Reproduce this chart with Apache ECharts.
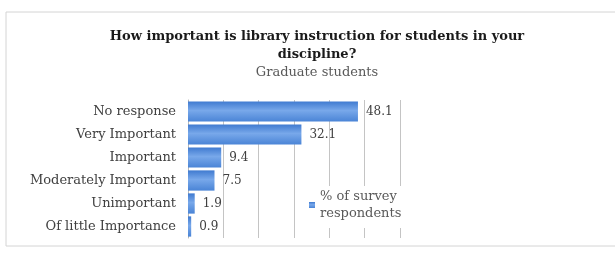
<!DOCTYPE html>
<html>
<head>
<meta charset="utf-8">
<script src="https://cdn.jsdelivr.net/npm/echarts@6/dist/echarts.min.js"></script>
<style>
  html, body { margin: 0; padding: 0; background: #fff; }
  #chart { width: 615px; height: 253px; }
</style>
</head>
<body>
<div id="chart"></div>
<script>
// categories listed bottom to top (category axis on y starts at the bottom)
const categories = ['Of little Importance', 'Unimportant', 'Moderately Important', 'Important', 'Very Important', 'No response']
const values = [0.9, 1.9, 7.5, 9.4, 32.1, 48.1]
const seriesName = '% of survey respondents'
const titleText = 'How important is library instruction for students in your\ndiscipline?'
const subtitleText = 'Graduate students'

const font = 'DejaVu Serif'
const chart = echarts.init(document.getElementById('chart'))

chart.setOption({
  animation: false,
  graphic: [{
    type: 'rect',
    shape: { x: 6, y: 12, width: 640, height: 234 },
    style: { fill: '#fff', stroke: '#d4d4d4', lineWidth: 1 },
    z: -10
  }],
  title: {
    text: titleText,
    subtext: subtitleText,
    left: 312,
    textAlign: 'center',
    top: 23,
    itemGap: 2,
    textStyle: { fontFamily: font, fontWeight: 'bold', fontSize: 13, color: '#1a1a1a', lineHeight: 18 },
    subtextStyle: { fontFamily: font, fontSize: 13, color: '#595959' }
  },
  grid: { left: 188, right: 215, top: 100, bottom: 15 },
  xAxis: {
    type: 'value',
    min: 0,
    max: 60,
    interval: 10,
    axisLabel: { show: false },
    axisLine: { show: false },
    axisTick: { show: false },
    splitLine: { lineStyle: { color: '#c4c4c4' } }
  },
  yAxis: {
    type: 'category',
    data: categories,
    axisTick: { show: false },
    axisLine: { lineStyle: { color: '#b8b8b8' } },
    axisLabel: { fontFamily: font, fontSize: 13, color: '#404040', margin: 12 }
  },
  legend: {
    left: 305,
    top: 186,
    orient: 'vertical',
    itemWidth: 6,
    itemHeight: 6,
    itemGap: 4,
    padding: [2, 4, 6, 4],
    backgroundColor: '#fff',
    formatter: () => '% of survey\nrespondents',
    textStyle: { fontFamily: font, fontSize: 13, color: '#595959', lineHeight: 17 },
    data: [{ name: seriesName, icon: 'rect' }]
  },
  series: [{
    name: seriesName,
    type: 'bar',
    data: values,
    barCategoryGap: '12%',
    itemStyle: {
      color: new echarts.graphic.LinearGradient(0, 0, 0, 1, [
        { offset: 0, color: '#3f7ad0' },
        { offset: 0.45, color: '#78a8ea' },
        { offset: 1, color: '#4a84d6' }
      ])
    },
    label: {
      show: true,
      position: 'right',
      distance: 8,
      fontFamily: font,
      fontSize: 12,
      color: '#404040'
    }
  }]
})
</script>
</body>
</html>
